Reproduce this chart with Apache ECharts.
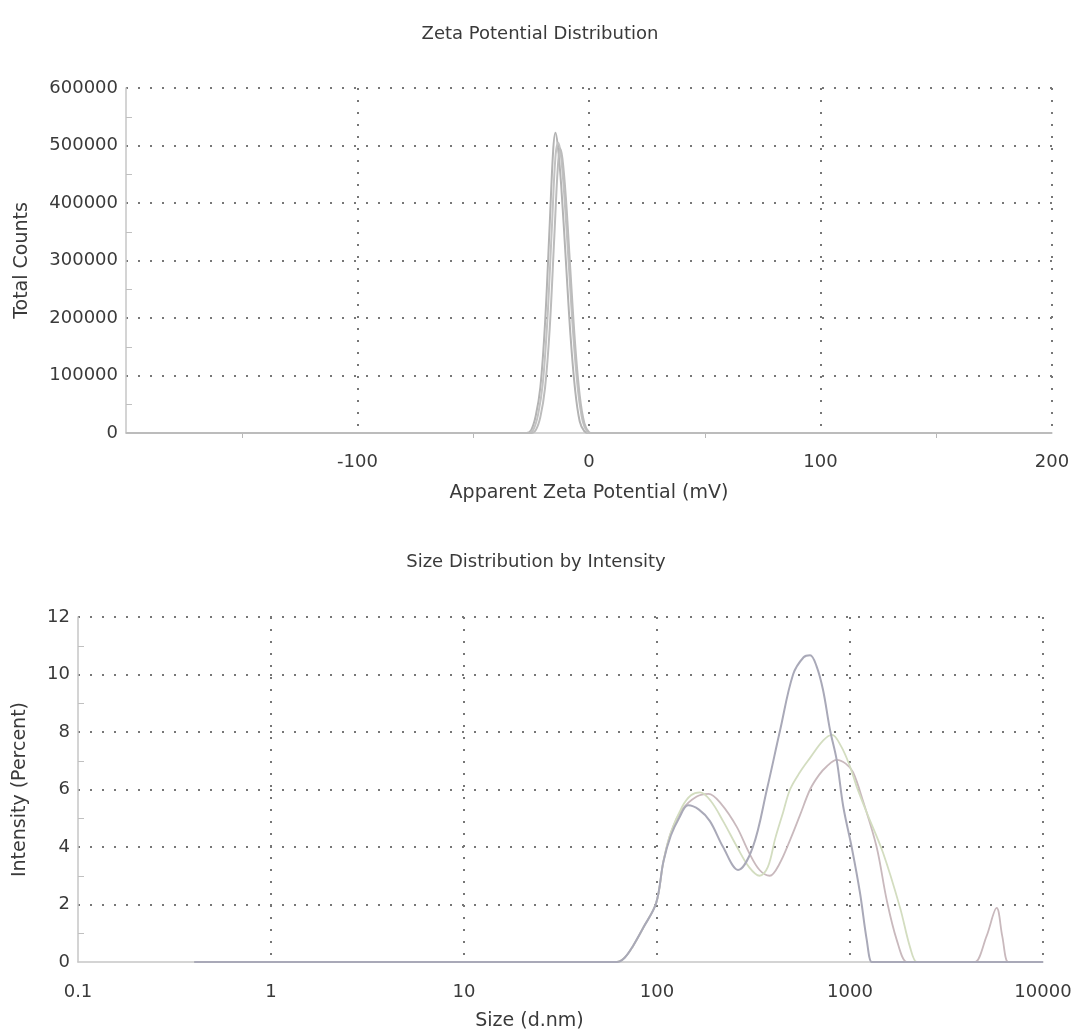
<!DOCTYPE html>
<html>
<head>
<meta charset="utf-8">
<style>
  html, body { margin: 0; padding: 0; background: #ffffff; }
  #chart { width: 1080px; height: 1032px; }
</style>
<script src="https://cdn.jsdelivr.net/npm/echarts@6/dist/echarts.min.js"></script>
</head>
<body>
<div id="chart"></div>
<script>
// ---------- Data: Zeta Potential Distribution (mV, total counts) ----------
const zetaRun1 = [[-200,0],[-27,0],[-25,5000],[-23,30000],[-21,80000],[-19,190000],[-17,360000],[-15.5,490000],[-14.5,522000],[-13.5,500000],[-12,430000],[-10,300000],[-8,170000],[-6,75000],[-4,20000],[-2,3000],[0,0],[200,0]];
const zetaRun2 = [[-200,0],[-26,0],[-24,6000],[-22,32000],[-20,85000],[-18,195000],[-16,360000],[-14.5,480000],[-13.3,505000],[-12.2,485000],[-10.7,415000],[-8.7,290000],[-6.7,165000],[-4.7,72000],[-2.7,20000],[-0.8,2000],[0.5,0],[200,0]];
const zetaRun3 = [[-200,0],[-25,0],[-23,5000],[-21,28000],[-19,78000],[-17,180000],[-15,340000],[-13.5,460000],[-12.5,495000],[-11.5,478000],[-10,410000],[-8,280000],[-6,155000],[-4,65000],[-2,17000],[0,1500],[1.5,0],[200,0]];
const zetaXTicks = [-200, -100, 0, 100, 200];
const zetaXTickLabels = ['', '-100', '0', '100', '200'];

// ---------- Data: Size Distribution by Intensity (d.nm, percent) ----------
const sizeRunA = [[0.4,0],[55,0],[62,0],[68,0.15],[75,0.55],[85,1.2],[99,2.05],[108,3.5],[118,4.4],[130,5.0],[145,5.45],[165,5.3],[188,4.9],[220,4.0],[263,3.2],[314,4.0],[371,6.0],[434,8.05],[507,10.0],[575,10.6],[621,10.67],[670,10.3],[725,9.46],[788,8.07],[853,7.03],[923,5.4],[1020,4.0],[1127,2.4],[1221,0.77],[1295,0],[1350,0],[10000,0]];
const sizeRunB = [[0.4,0],[55,0],[62,0],[68,0.15],[75,0.55],[85,1.2],[99,2.05],[108,3.5],[118,4.5],[135,5.4],[150,5.8],[167,5.9],[190,5.6],[220,4.9],[260,4.0],[300,3.3],[340,3.0],[375,3.3],[410,4.3],[450,5.2],[489,6.0],[550,6.6],[621,7.1],[725,7.7],[807,7.9],[900,7.5],[1000,6.8],[1083,6.1],[1221,5.2],[1483,3.8],[1815,1.9],[2050,0.5],[2217,0],[2350,0],[10000,0]];
const sizeRunC = [[0.4,0],[55,0],[62,0],[68,0.15],[75,0.55],[85,1.2],[99,2.05],[108,3.5],[118,4.5],[135,5.3],[160,5.75],[185,5.85],[215,5.5],[259,4.7],[300,3.8],[340,3.2],[384,3.0],[430,3.4],[489,4.24],[550,5.1],[621,6.0],[690,6.5],[757,6.8],[853,7.03],[950,6.9],[1037,6.6],[1168,5.6],[1374,4.0],[1549,2.16],[1746,0.77],[1967,0],[2080,0],[4200,0],[4446,0],[5100,0.9],[5754,1.88],[6150,0.9],[6591,0],[7000,0],[10000,0]];
const sizeXTicks = [0.1, 1, 10, 100, 1000, 10000];
const sizeXTickLabels = ['0.1', '1', '10', '100', '1000', '10000'];

// ---------- Texts ----------
const titleTop = 'Zeta Potential Distribution';
const titleBottom = 'Size Distribution by Intensity';
const zetaXName = 'Apparent Zeta Potential (mV)';
const zetaYName = 'Total Counts';
const sizeXName = 'Size (d.nm)';
const sizeYName = 'Intensity (Percent)';

const FONT = 'DejaVu Sans';
const TEXT = '#3a3a3a';
const AXIS = '#c6c6c6';
const GRIDDOT = { color: '#777777', width: 2, type: [2, 10] };

function tickLabel(ticks, labels) {
  return function (v) {
    let best = 0, bd = Infinity;
    for (let i = 0; i < ticks.length; i++) {
      const dd = Math.abs(ticks[i] - v) / (Math.abs(ticks[i]) + 1e-9);
      if (dd < bd) { bd = dd; best = i; }
    }
    return labels[best];
  };
}

const chart = echarts.init(document.getElementById('chart'), null, { renderer: 'canvas' });

const lineBase = { type: 'line', showSymbol: false, symbol: 'none', smooth: 0.35, animation: false };

chart.setOption({
  backgroundColor: '#ffffff',
  animation: false,
  title: [
    { text: titleTop, left: 535, top: 20, textAlign: 'center',
      textStyle: { fontFamily: FONT, fontSize: 18, fontWeight: 'normal', color: TEXT } },
    { text: titleBottom, left: 531, top: 548, textAlign: 'center',
      textStyle: { fontFamily: FONT, fontSize: 18, fontWeight: 'normal', color: TEXT } }
  ],
  grid: [
    { left: 126, right: 28, top: 88, height: 345 },
    { left: 78, right: 37, top: 617, height: 345 }
  ],
  xAxis: [
    {
      gridIndex: 0, type: 'value', min: -200, max: 200, interval: 100,
      name: zetaXName, nameLocation: 'middle', nameGap: 51,
      nameTextStyle: { fontFamily: FONT, fontSize: 19, color: TEXT },
      axisLine: { show: true, onZero: false, lineStyle: { color: AXIS, width: 1.5 } },
      axisTick: { show: false },
      minorTick: { show: true, splitNumber: 2, length: 5, lineStyle: { color: '#b8b8b8', width: 1 } },
      axisLabel: { margin: 20, fontFamily: FONT, fontSize: 18, color: TEXT, formatter: tickLabel(zetaXTicks, zetaXTickLabels) },
      splitLine: { show: true, showMinLine: false, lineStyle: GRIDDOT }
    },
    {
      gridIndex: 1, type: 'log', logBase: 10, min: 0.1, max: 10000,
      name: sizeXName, nameLocation: 'middle', nameGap: 50,
      nameTextStyle: { fontFamily: FONT, fontSize: 19, color: TEXT, padding: [0, 62, 0, 0] },
      axisLine: { show: true, onZero: false, lineStyle: { color: AXIS, width: 1.5 } },
      axisTick: { show: false },
      minorTick: { show: false },
      axisLabel: { margin: 21, fontFamily: FONT, fontSize: 18, color: TEXT, formatter: tickLabel(sizeXTicks, sizeXTickLabels) },
      splitLine: { show: true, showMinLine: false, lineStyle: GRIDDOT }
    }
  ],
  yAxis: [
    {
      gridIndex: 0, type: 'value', min: 0, max: 600000, interval: 100000,
      name: zetaYName, nameLocation: 'middle', nameGap: 94,
      nameTextStyle: { fontFamily: FONT, fontSize: 19, color: TEXT },
      axisLine: { show: true, onZero: false, lineStyle: { color: AXIS, width: 1.5 } },
      axisTick: { show: false, inside: true },
      minorTick: { show: true, splitNumber: 2, length: 6, lineStyle: { color: '#c0c0c0', width: 1 } },
      axisLabel: { margin: 8, fontFamily: FONT, fontSize: 18, color: TEXT, formatter: function (v) { return String(v); } },
      splitLine: { show: true, showMinLine: false, lineStyle: GRIDDOT }
    },
    {
      gridIndex: 1, type: 'value', min: 0, max: 12, interval: 2,
      name: sizeYName, nameLocation: 'middle', nameGap: 48,
      nameTextStyle: { fontFamily: FONT, fontSize: 19, color: TEXT },
      axisLine: { show: true, onZero: false, lineStyle: { color: AXIS, width: 1.5 } },
      axisTick: { show: false, inside: true },
      minorTick: { show: true, splitNumber: 2, length: 6, lineStyle: { color: '#c0c0c0', width: 1 } },
      axisLabel: { margin: 8, fontFamily: FONT, fontSize: 18, color: TEXT, formatter: function (v) { return String(v); } },
      splitLine: { show: true, showMinLine: false, lineStyle: GRIDDOT }
    }
  ],
  series: [
    Object.assign({}, lineBase, { name: 'Zeta run 1', xAxisIndex: 0, yAxisIndex: 0, data: zetaRun1, lineStyle: { color: '#b3b3b3', width: 2 } }),
    Object.assign({}, lineBase, { name: 'Zeta run 2', xAxisIndex: 0, yAxisIndex: 0, data: zetaRun2, lineStyle: { color: '#c2c2c2', width: 2 } }),
    Object.assign({}, lineBase, { name: 'Zeta run 3', xAxisIndex: 0, yAxisIndex: 0, data: zetaRun3, lineStyle: { color: '#bcbcbc', width: 2 } }),
    Object.assign({}, lineBase, { name: 'Size run C', xAxisIndex: 1, yAxisIndex: 1, data: sizeRunC, lineStyle: { color: '#c9b9bd', width: 1.8 } }),
    Object.assign({}, lineBase, { name: 'Size run B', xAxisIndex: 1, yAxisIndex: 1, data: sizeRunB, lineStyle: { color: '#d3ddc0', width: 1.8 } }),
    Object.assign({}, lineBase, { name: 'Size run A', xAxisIndex: 1, yAxisIndex: 1, data: sizeRunA, lineStyle: { color: '#a9a9b8', width: 2 } })
  ]
});
</script>
</body>
</html>
